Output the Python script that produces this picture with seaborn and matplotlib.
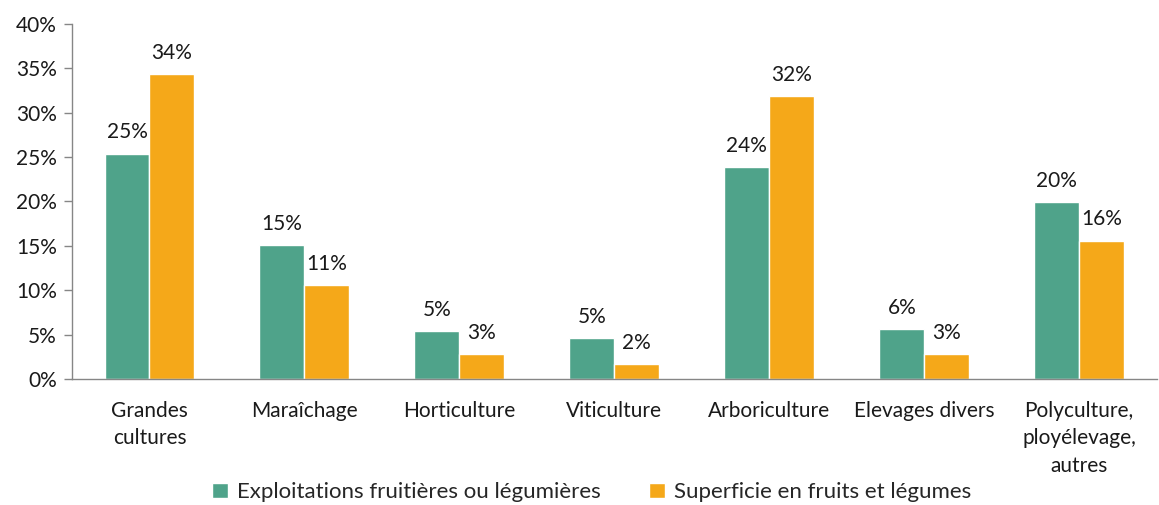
import pandas as pd
import numpy as np
import matplotlib
matplotlib.use('Agg')
import matplotlib.pyplot as plt
import seaborn as sns

# -------------------------------
# DATA
# -------------------------------

categories = [
    'Grandes\ncultures',
    'Maraîchage',
    'Horticulture',
    'Viticulture',
    'Arboriculture',
    'Elevages divers',
    'Polyculture,\nployélevage,\nautres'
]

exploitations = [25.4, 15.1, 5.4, 4.6, 23.9, 5.6, 19.9]
superficie = [34.4, 10.6, 2.8, 1.7, 31.9, 2.8, 15.6]

series_names = [
    'Exploitations fruitières ou légumières',
    'Superficie en fruits et légumes'
]

colors = ['#4FA38A', '#F5A819']

df = pd.DataFrame({
    'Category': categories * 2,
    'Serie': [series_names[0]] * len(categories) + [series_names[1]] * len(categories),
    'Value': exploitations + superficie
})

# -------------------------------
# PLOT
# -------------------------------

sns.set_theme(style='white')
plt.rcParams['font.family'] = ['Lato', 'DejaVu Sans']

fig = plt.figure(figsize=(11.59, 5.05), dpi=100)
ax = fig.add_axes([0.0621, 0.2495, 0.9359, 0.703])

sns.barplot(
    data=df,
    x='Category',
    y='Value',
    hue='Serie',
    palette=colors,
    width=0.58,
    saturation=1,
    ax=ax
)

# value labels
for container in ax.containers:
    labels = [f'{round(b.get_height())}%' for b in container]
    ax.bar_label(container, labels=labels, padding=8, fontsize=15, color='#1a1a1a')

ax.set_ylim(0, 40)
ax.set_xlim(-0.5, len(categories) - 0.5)
ax.set_yticks(np.arange(0, 41, 5))
ax.set_yticklabels([f'{v}%' for v in range(0, 41, 5)], fontsize=15, color='#1a1a1a')
ax.set_xticklabels(categories, fontsize=15, color='#1a1a1a', linespacing=1.45)
ax.set_xticks(np.arange(-0.5, len(categories), 1.0), minor=True)

ax.tick_params(axis='x', which='major', length=0, pad=16)
ax.tick_params(axis='x', which='minor', length=6, color='#868686', width=1)
ax.tick_params(axis='y', length=6, color='#868686', width=1, pad=5, left=True)

for side in ['top', 'right']:
    ax.spines[side].set_visible(False)
for side in ['left', 'bottom']:
    ax.spines[side].set_color('#868686')
    ax.spines[side].set_linewidth(1)

ax.set_xlabel('')
ax.set_ylabel('')

ax.legend(
    loc='center',
    bbox_to_anchor=(0.479, -0.319),
    ncol=2,
    frameon=False,
    fontsize=16,
    handlelength=0.7,
    handleheight=0.7,
    handletextpad=0.4,
    columnspacing=2.2,
    borderpad=0
)

plt.savefig('out.png', dpi=100)
plt.close()
